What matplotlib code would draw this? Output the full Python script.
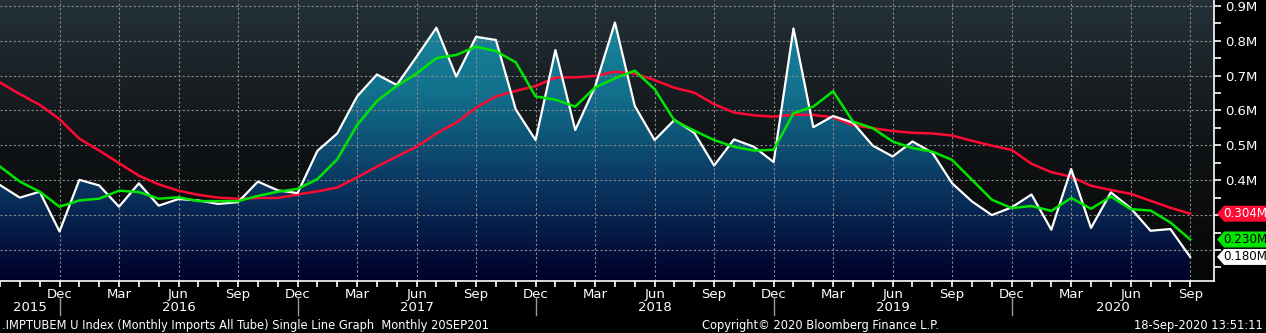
import numpy as np
import matplotlib

matplotlib.use('Agg')
import matplotlib.pyplot as plt
from matplotlib.colors import LinearSegmentedColormap
from matplotlib.patches import Polygon
from matplotlib.transforms import blended_transform_factory

W, H = 1266, 333

MONTH_NAMES = ['Jan', 'Feb', 'Mar', 'Apr', 'May', 'Jun',
               'Jul', 'Aug', 'Sep', 'Oct', 'Nov', 'Dec']
START_YEAR = 2015
START_MONTH = 9  # Sep 2015

# monthly imports, all tube (millions)
imports = [0.386, 0.350, 0.367, 0.253, 0.401, 0.385, 0.324, 0.391, 0.327, 0.346, 0.342,
           0.332, 0.337, 0.396, 0.371, 0.363, 0.484, 0.534, 0.640, 0.703, 0.673,
           0.754, 0.837, 0.697, 0.811, 0.802, 0.603, 0.515, 0.773, 0.544, 0.668,
           0.852, 0.613, 0.515, 0.573, 0.536, 0.442, 0.517, 0.496, 0.452, 0.835,
           0.552, 0.584, 0.565, 0.499, 0.468, 0.511, 0.479, 0.391, 0.339, 0.300,
           0.322, 0.359, 0.258, 0.432, 0.263, 0.365, 0.320, 0.255, 0.260, 0.180]
# short moving average (green)
avg_short = [0.439, 0.396, 0.367, 0.324, 0.342, 0.347, 0.370, 0.366, 0.347, 0.351, 0.340,
             0.340, 0.340, 0.355, 0.367, 0.375, 0.403, 0.460, 0.558, 0.627, 0.670,
             0.706, 0.750, 0.759, 0.783, 0.770, 0.738, 0.640, 0.631, 0.611, 0.666,
             0.692, 0.714, 0.661, 0.571, 0.542, 0.515, 0.496, 0.485, 0.487, 0.592,
             0.611, 0.655, 0.568, 0.549, 0.511, 0.492, 0.482, 0.458, 0.401, 0.344,
             0.320, 0.326, 0.312, 0.349, 0.318, 0.353, 0.317, 0.313, 0.279, 0.230]
# long moving average (red)
avg_long = [0.680, 0.647, 0.616, 0.575, 0.519, 0.485, 0.449, 0.413, 0.388, 0.370, 0.358,
            0.350, 0.347, 0.349, 0.349, 0.359, 0.368, 0.379, 0.408, 0.439, 0.468,
            0.496, 0.534, 0.565, 0.608, 0.640, 0.656, 0.670, 0.694, 0.695, 0.699,
            0.711, 0.706, 0.687, 0.665, 0.651, 0.618, 0.594, 0.586, 0.582, 0.588,
            0.587, 0.580, 0.558, 0.549, 0.541, 0.536, 0.534, 0.528, 0.513, 0.499,
            0.487, 0.447, 0.423, 0.410, 0.384, 0.372, 0.361, 0.341, 0.321, 0.304]

y_ticks = [0.2, 0.3, 0.4, 0.5, 0.6, 0.7, 0.8, 0.9]
y_labelled = [0.4, 0.5, 0.6, 0.7, 0.8, 0.9]  # 0.2 / 0.3 sit behind the value tags
label_months = ['Dec', 'Mar', 'Jun', 'Sep']

footer_left = '.IMPTUBEM U Index (Monthly Imports All Tube) Single Line Graph  Monthly 20SEP201'
footer_mid = 'Copyright\u00a9 2020 Bloomberg Finance L.P.'
footer_right = '18-Sep-2020 13:51:11'

RED = '#ff0a32'
GREEN = '#00e600'
WHITE = '#ffffff'
FONT = 'DejaVu Sans'

x = np.arange(len(imports))
month_of = [(START_MONTH - 1 + i) % 12 for i in x]
year_of = [START_YEAR + (START_MONTH - 1 + i) // 12 for i in x]

XMIN, XMAX = 0, len(imports) - 1 + 1.2
YMIN, YMAX = 0.111, 0.9166

fig = plt.figure(figsize=(W / 100, H / 100), dpi=100, facecolor='black')
ax = fig.add_axes([0, 52 / H, 1214 / W, 281 / H])
ax.set_facecolor('black')
ax.set_xlim(XMIN, XMAX)
ax.set_ylim(YMIN, YMAX)

# background gradient
bg_cmap = LinearSegmentedColormap.from_list('bg', ['#050607', '#111416', '#243139'])
grad = np.linspace(0, 1, 256).reshape(-1, 1)
ax.imshow(grad, extent=[XMIN, XMAX, YMIN, YMAX], origin='lower', aspect='auto',
          cmap=bg_cmap, zorder=0, interpolation='bilinear')

# area fill under the imports line, coloured by height
fill_cmap = LinearSegmentedColormap.from_list('fill', ['#00002a', '#0a3460', '#12708c', '#1a8ca0'])
fill = ax.fill_between(x, imports, YMIN, facecolor='none', edgecolor='none')
area = ax.imshow(grad, extent=[XMIN, XMAX, YMIN, YMAX], origin='lower', aspect='auto',
                 cmap=fill_cmap, zorder=1, interpolation='bilinear')
area.set_clip_path(fill.get_paths()[0], transform=ax.transData)

# grid
tick_pos = [i for i in x if i > 0 and MONTH_NAMES[month_of[i]] in label_months]
for xv in tick_pos:
    ax.axvline(xv, color='#8a8a8a', lw=0.8, ls=(0, (2, 2)), zorder=2)
for yv in y_ticks:
    ax.axhline(yv, color='#8a8a8a', lw=0.8, ls=(0, (2, 2)), zorder=2)

ax.plot(x, avg_long, color=RED, lw=1.8, zorder=4)
ax.plot(x, imports, color=WHITE, lw=1.6, zorder=5)
ax.plot(x, avg_short, color=GREEN, lw=1.8, zorder=6)

# axes styling
for side in ['top', 'left']:
    ax.spines[side].set_visible(False)
for side in ['right', 'bottom']:
    ax.spines[side].set_color('white')
    ax.spines[side].set_linewidth(1.2)

ax.yaxis.tick_right()
ax.set_yticks(y_ticks)
ax.set_yticklabels([f'{v:.1f}M' if v in y_labelled else '' for v in y_ticks], family=FONT)
ax.set_yticks(np.arange(0.15, 0.9, 0.1), minor=True)
ax.tick_params(axis='y', which='both', colors='white', labelsize=9.5, length=5, width=1.2, pad=3)

ax.set_xticks(tick_pos)
ax.set_xticklabels([MONTH_NAMES[month_of[i]] for i in tick_pos], family=FONT)
ax.set_xticks(x, minor=True)
ax.tick_params(axis='x', which='both', colors='white', labelsize=9.5, length=4, width=1.2, pad=1)

# year labels and separators below the month labels
tr = blended_transform_factory(ax.transData, ax.transAxes)
seps = [i for i in tick_pos if MONTH_NAMES[month_of[i]] == 'Dec']
edges = [XMIN] + seps + [XMAX]
for k in range(len(edges) - 1):
    mid = (edges[k] + edges[k + 1]) / 2
    yr = year_of[0] if k == 0 else year_of[min(int(np.ceil(mid)), len(x) - 1)]
    ax.text(mid, -0.093, str(yr), transform=tr, color='white', fontsize=9.5, family=FONT,
            ha='center', va='center', clip_on=False)
for s in seps:
    ax.plot([s, s], [-0.058, -0.121], transform=tr, color='#9a9a9a', lw=1.0, clip_on=False)

# last value tags on the right axis
tag_tr = blended_transform_factory(ax.transAxes, ax.transData)
half = 8 * (YMAX - YMIN) / 281
tip, body, end = 1 + 3 / 1214, 1 + 10 / 1214, 1 + 52 / 1214
for series, fc, tc in [(avg_long, RED, 'white'), (avg_short, GREEN, 'black'), (imports, WHITE, 'black')]:
    v = series[-1]
    poly = Polygon([(tip, v), (body, v + half), (end, v + half), (end, v - half), (body, v - half)],
                   closed=True, transform=tag_tr, facecolor=fc, edgecolor='none', clip_on=False, zorder=10)
    ax.add_patch(poly)
    ax.text((body + end) / 2, v, f'{v:.3f}M', transform=tag_tr, color=tc, fontsize=8.6,
            family=FONT, ha='center', va='center', clip_on=False, zorder=11)

# footer
fy = 1 - 325 / H
fig.text(2 / W, fy, footer_left, color='white', fontsize=8.3, family=FONT, va='center', ha='left')
fig.text(820 / W, fy, footer_mid, color='white', fontsize=8.3, family=FONT, va='center', ha='center')
fig.text(1263 / W, fy, footer_right, color='white', fontsize=8.3, family=FONT, va='center', ha='right')

fig.savefig('out.png', dpi=100, facecolor='black')
